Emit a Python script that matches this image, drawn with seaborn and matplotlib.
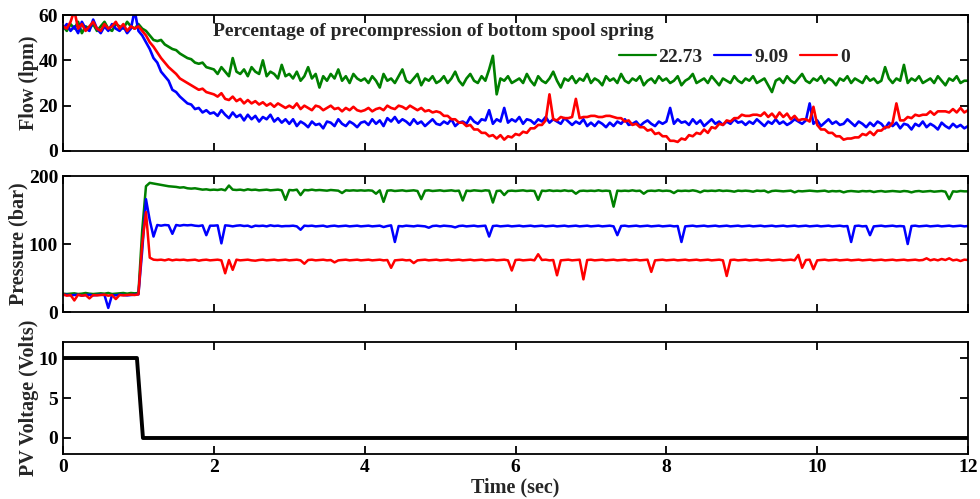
import numpy as np
import pandas as pd
import matplotlib
matplotlib.use("Agg")
import matplotlib.pyplot as plt
import seaborn as sns

# ---------------- data ----------------
series_names = ["22.73", "9.09", "0"]
series_colors = ["#008000", "#0000ff", "#ff0000"]
legend_title = "Percentage of precompression of bottom spool spring"

# sampling times for flow / pressure (0 .. 12 s, every 0.05 s)
time_s = np.round(np.arange(0, 241) * 0.05, 2)

flow_2273 = [
    55, 53, 56, 54, 57, 52, 55, 54, 56, 53, 55, 57, 54, 53, 56, 55, 54, 57, 55, 54,
    56, 54, 53, 51, 49, 48.5, 49, 47, 46, 45, 44.5, 43, 42, 41, 40.5, 39, 38.5, 39, 37, 36.5,
    36, 34, 37, 35, 33, 41, 35, 34, 36, 33, 37, 35, 34, 40, 33, 35, 34, 32, 38, 33,
    34, 32, 35, 31, 33, 37, 32, 34, 28, 33, 31, 34, 32, 36, 31, 33, 30, 34, 32, 31,
    32, 30, 33, 31, 28, 34, 31, 32, 30, 33, 36, 31, 30, 32, 34, 29, 32, 31, 33, 30,
    31, 33, 30, 32, 35, 31, 29, 32, 34, 31, 30, 33, 31, 36, 42, 25, 32, 31, 33, 30,
    31, 32, 30, 34, 31, 29, 33, 31, 30, 32, 35, 31, 28, 32, 31, 33, 30, 32, 31, 34,
    30, 32, 31, 29, 33, 31, 32, 30, 34, 31, 30, 32, 31, 33, 29, 31, 32, 30, 33, 31,
    32, 30, 31, 33, 29, 31, 32, 34, 30, 31, 32, 30, 33, 31, 29, 32, 31, 30, 33, 31,
    30, 32, 31, 33, 30, 31, 32, 29, 26, 31, 32, 30, 33, 31, 30, 32, 34, 31, 30, 32,
    31, 33, 30, 32, 31, 29, 32, 31, 33, 30, 32, 31, 30, 33, 31, 32, 30, 31, 37, 32,
    30, 32, 31, 38, 30, 32, 31, 33, 30, 31, 32, 30, 33, 31, 29, 32, 31, 33, 30, 31,
    31,
]

flow_909 = [
    54, 56, 53, 55, 52, 57, 54, 53, 58, 54, 52, 55, 53, 56, 54, 53, 55, 52, 54, 62,
    53, 51, 48, 45, 41, 39, 35, 33, 31, 27, 26, 24, 22.5, 21, 20.5, 18.5, 19, 17, 18, 16.5,
    17, 15.5, 18, 16, 14.5, 17, 15, 16, 13.5, 16, 14, 15.5, 13, 15, 14, 16, 13, 14.5, 12.5, 14,
    12, 14, 11, 13, 12, 10.5, 13, 11.5, 12, 10, 13, 12.5, 11, 14, 12, 11, 13, 12, 10.5, 12.5,
    13, 11.5, 14, 12, 13.5, 11, 14.5, 13, 15, 12.5, 14, 13, 11.5, 14, 12, 13, 11, 12.5, 14, 12,
    11.5, 13, 12, 14, 11, 12.5, 13, 12, 15, 13, 12, 14, 13.5, 18, 12, 14, 13, 19, 12.5, 14,
    13, 15, 12, 14, 13.5, 12, 14, 13, 15, 12.5, 14, 13, 12, 14.5, 13, 11.5, 13, 12, 14, 11,
    12.5, 11, 13, 12, 10.5, 12.5, 11, 13, 12, 14, 11.5, 12, 13, 11, 12.5, 13.5, 12, 11, 13, 12,
    13, 19, 12, 14, 12.5, 13, 11.5, 14, 12, 13.5, 11, 12.5, 14, 12, 13, 11.5, 13, 12, 14, 12.5,
    13, 11.5, 13, 12, 14, 12.5, 11, 13, 12, 14, 12, 13, 11.5, 12.5, 14, 13, 12, 13.5, 21, 12,
    13.5, 11, 12.5, 14, 12, 13, 11.5, 12, 14, 12.5, 11, 13, 12, 10.5, 12.5, 11, 13, 12, 10, 12.5,
    11, 12.5, 10, 12, 11.5, 9.5, 12, 11, 13, 10.5, 12, 11, 9.5, 12.5, 11, 10, 12, 10.5, 11.5, 10,
    11,
]

flow_0 = [
    55, 54, 57, 62, 54, 56, 53, 55, 57, 54, 53, 56, 54, 55, 57, 54, 56, 53, 55, 54,
    55, 53, 51, 48, 46, 43.5, 41, 39, 37, 35.5, 34, 32, 31, 30, 29, 28, 27, 27.5, 26, 25.5,
    25, 24, 25.5, 23, 22.5, 24, 22, 23, 21, 22.5, 21, 22, 20.5, 21.5, 20, 21, 19.5, 21, 20, 19,
    20, 19, 21, 18.5, 20, 19, 18, 20, 19.5, 18, 19, 20, 18.5, 19, 17.5, 19, 18, 19.5, 18, 17.5,
    18, 19, 17.5, 18.5, 19, 18, 20, 19, 18.5, 20, 19.5, 18.5, 20, 19, 18, 19, 17.5, 18, 17, 17.5,
    17, 15.5, 15.5, 14, 14, 12.5, 12.5, 11, 11.5, 9.5, 9.5, 8, 8, 6.5, 7, 5.5, 7, 5, 6.5, 6,
    7.5, 7, 8.5, 8, 10, 10, 11.5, 11.5, 13.5, 25, 14, 13.5, 15, 14.5, 14.5, 15, 23, 14.5, 15, 15,
    15.5, 15.5, 15, 15, 15.5, 15.5, 15, 14.5, 14.5, 13, 13.5, 11.5, 12, 10.5, 10.5, 9, 9.5, 7.5, 8, 6.5,
    6.5, 4.5, 4.5, 4, 5.5, 5, 7, 6.5, 8, 7.5, 9.5, 8, 10.5, 10, 12, 11.5, 13.5, 13, 14.5, 14.5,
    16, 15.5, 15.5, 16, 16, 15.5, 17, 15, 16.5, 14.5, 17, 15, 16.5, 14, 15.5, 13.5, 14, 14, 13, 19.5,
    11.5, 9.5, 9.5, 8, 8, 6.5, 6.5, 5, 5.5, 5.5, 6, 6, 7.5, 7, 8.5, 7, 9, 9, 10.5, 10.5,
    12.5, 21, 13.5, 13.5, 15, 14.5, 16, 15.5, 16, 16, 17.5, 16, 17.5, 17.5, 17.5, 17, 18.5, 17, 19, 17,
    18,
]

pressure_2273 = [
    27, 26.5, 27, 27.5, 26.5, 27, 28, 27, 26.5, 27, 27.5, 27, 28, 26.5, 27, 27.5, 28, 27, 28, 27.5,
    28, 120, 185, 190, 189, 188, 187, 186, 185, 184.5, 184, 183, 183.5, 182, 181.5, 182, 181, 180, 180.5, 179.5,
    180, 179.5, 180.5, 179, 186, 180, 179.5, 180, 179, 180.5, 179.5, 180, 179, 179.5, 180, 179, 179.5, 180, 179, 165,
    179.5, 179, 180, 172, 179.5, 179, 180, 179, 179.5, 179, 178.5, 179.5, 179, 178.5, 175, 179, 178.5, 179, 178.5, 179,
    178.5, 179, 178.5, 174, 179, 162, 178.5, 179, 178, 178.5, 179, 178, 178.5, 179, 178, 166, 178.5, 179, 178, 178.5,
    179, 178, 178.5, 179, 178, 178.5, 164, 178.5, 178, 179, 178.5, 178, 179, 178.5, 161, 178, 178.5, 172, 178, 178.5,
    178, 178.5, 179, 178, 178.5, 178, 165, 178.5, 178, 179, 178, 178.5, 178, 179, 178, 178.5, 174, 178, 178.5, 178,
    178.5, 178, 179, 178, 178.5, 178, 155, 178.5, 178, 178.5, 178, 179, 178, 178.5, 174, 178, 178.5, 178, 179, 178,
    178.5, 178, 175, 178.5, 178, 178.5, 178, 179, 178, 176, 178.5, 178, 178.5, 178, 179, 178, 178.5, 178, 177, 178.5,
    178, 178.5, 178, 177, 178.5, 178, 178.5, 176, 178, 178.5, 178, 177.5, 178, 178.5, 176, 178, 177.5, 178, 178.5, 178,
    177.5, 178, 178.5, 177, 178, 177.5, 178, 176, 177.5, 178, 177.5, 177, 178, 177.5, 178, 176.5, 177.5, 178, 177, 177.5,
    178, 177.5, 177, 178, 177.5, 176, 177.5, 178, 177, 177.5, 178, 177, 177.5, 178, 177, 166, 177.5, 177, 178, 177.5,
    177.5,
]

pressure_909 = [
    25, 25.5, 24.5, 25, 25.5, 24, 25, 25.5, 24.5, 25, 25.5, 25, 6, 25, 24.5, 25.5, 25, 24.5, 25, 25.5,
    26, 90, 166, 135, 111, 128, 127, 128, 127.5, 115, 128, 127, 128, 127.5, 128, 127, 126.5, 127.5, 113, 127,
    127, 127.5, 101, 127.5, 127, 126, 127, 127.5, 126.5, 127, 125, 127, 126.5, 127, 126, 127.5, 126.5, 127, 126, 126.5,
    126.5, 127, 126, 121, 127, 126.5, 127, 126, 126.5, 127, 125.5, 126.5, 127, 126, 126.5, 127, 126, 126.5, 127, 126,
    126.5, 127, 126, 126.5, 127, 125, 126.5, 127.5, 103, 126.5, 126, 127, 126.5, 126, 127, 126.5, 126, 124, 126.5, 127,
    126, 127, 126.5, 126, 124.5, 126.5, 127, 126, 126.5, 127, 126, 126.5, 127, 111, 126.5, 127, 126, 126.5, 127, 126,
    126.5, 127, 126, 126.5, 127, 126, 126.5, 127, 126, 126.5, 127, 126, 126.5, 127, 126, 126.5, 127, 126, 126.5, 127,
    126, 126.5, 127, 126, 126.5, 127, 126, 113, 126.5, 127, 126, 126.5, 127, 126, 126.5, 127, 126, 126.5, 127, 126,
    126.5, 127, 126, 126.5, 103, 126, 126.5, 127, 126, 126.5, 127, 126, 126.5, 127, 126, 126.5, 127, 126, 126.5, 127,
    126, 126.5, 127, 126, 126.5, 127, 126, 126.5, 127, 126, 126.5, 127, 126, 126.5, 127, 126, 126.5, 127, 126, 126.5,
    127, 126, 126.5, 127, 126, 126.5, 127, 126, 126.5, 103, 126.5, 127, 126, 126.5, 113, 126, 126.5, 127, 126, 126.5,
    127, 126, 126.5, 126, 100, 126.5, 127, 126, 126.5, 127, 126, 126.5, 127, 126, 126.5, 127, 126, 126.5, 127, 126,
    126.5,
]

pressure_0 = [
    26, 24, 25, 17, 25.5, 24, 25, 20, 25, 24.5, 25, 25.5, 24, 25, 19, 25, 24.5, 25, 25.5, 25,
    26, 100, 147, 80, 77, 76.5, 77, 76, 77.5, 76, 77, 76.5, 77, 76, 76.5, 77, 75.5, 76.5, 77, 76,
    76.5, 77, 76, 57, 76.5, 62, 77, 76, 76.5, 77, 76, 75.5, 76.5, 77, 76, 76.5, 77, 76, 76.5, 77,
    76, 76.5, 77, 76, 71, 76.5, 77, 76, 76.5, 77, 76, 76.5, 73, 76, 76.5, 77, 76, 76.5, 77, 76,
    76.5, 77, 76, 76.5, 77, 76, 76.5, 65, 76, 76.5, 77, 76, 76.5, 72, 76, 76.5, 77, 76, 76.5, 77,
    76, 76.5, 77, 76, 76.5, 77, 76, 76.5, 77, 76, 76.5, 77, 76, 76.5, 77, 76, 76.5, 77, 76, 61,
    76.5, 77, 76, 76.5, 77, 76, 85, 76.5, 77, 76, 76.5, 54, 76, 76.5, 77, 76, 76.5, 77, 48, 76.5,
    77, 76, 76.5, 77, 76, 76.5, 77, 76, 76.5, 77, 76, 76.5, 77, 76, 76.5, 77, 59, 76, 76.5, 77,
    76, 76.5, 77, 76, 76.5, 77, 76, 76.5, 77, 76, 76.5, 77, 76, 76.5, 77, 76, 53, 76.5, 77, 76,
    76.5, 77, 76, 76.5, 77, 76, 76.5, 77, 76, 76.5, 77, 76, 76.5, 77, 76, 84, 65, 76.5, 77, 63,
    76, 76.5, 77, 76, 76.5, 77, 76, 76.5, 77, 76, 76.5, 77, 76, 76.5, 77, 76, 76.5, 77, 76, 76.5,
    77, 76, 76.5, 77, 76, 76.5, 77, 76, 76.5, 79, 76, 77.5, 76, 78, 76.5, 79, 76, 77, 75, 77,
    76.5,
]

voltage_time = [0, 0.98, 1.06, 12]
voltage_volts = [10, 10, 0, 0]

flow_ticks = [0, 20, 40, 60]
pressure_ticks = [0, 100, 200]
voltage_ticks = [0, 5, 10]
time_ticks = [0, 2, 4, 6, 8, 10, 12]

# ---------------- styling ----------------
sns.set_theme(style="ticks")
plt.rcParams["font.family"] = ["Liberation Serif", "DejaVu Serif"]
plt.rcParams["font.weight"] = "bold"
plt.rcParams["axes.labelweight"] = "bold"
plt.rcParams["axes.linewidth"] = 1.3
plt.rcParams["xtick.direction"] = "in"
plt.rcParams["ytick.direction"] = "in"

FS = 14

fig = plt.figure(figsize=(9.8, 4.99), dpi=100)
left, width = 0.0643, 0.9235
ax1 = fig.add_axes([left, 0.6974, width, 0.2725])
ax2 = fig.add_axes([left, 0.3747, width, 0.2725])
ax3 = fig.add_axes([left, 0.0902, width, 0.2244])

flow_df = pd.DataFrame({"t": time_s, "22.73": flow_2273, "9.09": flow_909, "0": flow_0})
pres_df = pd.DataFrame({"t": time_s, "22.73": pressure_2273, "9.09": pressure_909, "0": pressure_0})
volt_df = pd.DataFrame({"t": voltage_time, "v": voltage_volts})

handles = []
for name, col in zip(series_names, series_colors):
    sns.lineplot(data=flow_df, x="t", y=name, ax=ax1, color=col, lw=1.9,
                 estimator=None, sort=False)
    handles.append(ax1.lines[-1])
    sns.lineplot(data=pres_df, x="t", y=name, ax=ax2, color=col, lw=1.8,
                 estimator=None, sort=False)
sns.lineplot(data=volt_df, x="t", y="v", ax=ax3, color="black", lw=2.8,
             estimator=None, sort=False)

ax1.set_ylim(0, 60)
ax1.set_yticks(flow_ticks)
ax2.set_ylim(0, 200)
ax2.set_yticks(pressure_ticks)
ax3.set_ylim(-2, 12)
ax3.set_yticks(voltage_ticks)

for ax in (ax1, ax2, ax3):
    ax.set_xlim(0, 12)
    ax.set_xticks(time_ticks)
    ax.tick_params(axis="both", which="both", direction="in", top=True, right=True,
                   length=6, width=1.3, labelsize=FS, colors="black")
    for lab in ax.get_yticklabels():
        lab.set_fontweight("bold")
    for sp in ax.spines.values():
        sp.set_visible(True)
        sp.set_color("black")
        sp.set_linewidth(1.3)
    ax.set_xlabel("")

ax1.set_xticklabels([])
ax2.set_xticklabels([])
for lab in ax3.get_xticklabels():
    lab.set_fontweight("bold")

ax1.set_ylabel("Flow (lpm)", fontsize=FS + 0.5, fontweight="bold", labelpad=0)
ax2.set_ylabel("Pressure (bar)", fontsize=FS + 0.5, fontweight="bold", labelpad=0)
ax3.set_ylabel("PV Voltage (Volts)", fontsize=FS + 0.5, fontweight="bold", labelpad=0)
ax3.set_xlabel("Time (sec)", fontsize=FS + 0.5, fontweight="bold", labelpad=1)

ax1.text(0.166, 0.882, legend_title, transform=ax1.transAxes, ha="left", va="center",
         fontsize=FS, fontweight="bold")
leg = ax1.legend(handles, series_names, loc="center left", bbox_to_anchor=(0.614, 0.691),
                 ncol=3, frameon=False, handlelength=1.9, handletextpad=0.15,
                 columnspacing=0.6, borderpad=0, borderaxespad=0,
                 prop={"weight": "bold", "size": FS})
for ln in leg.get_lines():
    ln.set_linewidth(1.6)

fig.savefig("out.png", dpi=100)
